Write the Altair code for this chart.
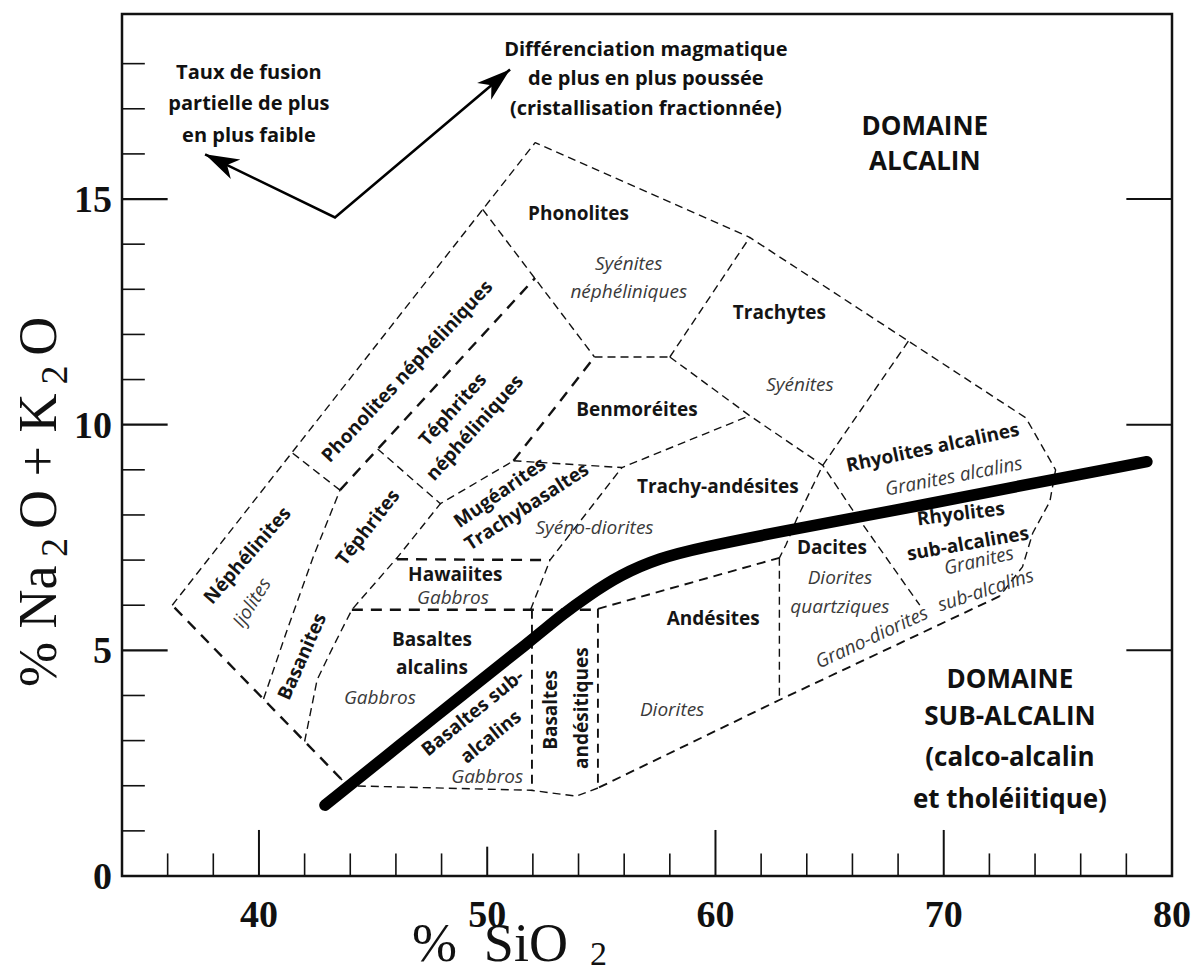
import math
import altair as alt
import pandas as pd

# ---------------------------------------------------------------- axes
X_MIN, X_MAX = 34, 80
Y_MIN, Y_MAX = 0, 19.1
W, H = 1050, 862
PX_X = W / (X_MAX - X_MIN)
PX_Y = H / (Y_MAX - Y_MIN)

x_tick_labels = [40, 50, 60, 70, 80]
y_tick_labels = [0, 5, 10, 15]
x_minor = [36, 38, 42, 44, 46, 48, 52, 54, 56, 58, 62, 64, 66, 68, 72, 74, 76, 78]
x_major = [40, 50, 60, 70]
y_minor = [1, 2, 3, 4, 6, 7, 8, 9, 11, 12, 13, 14, 16, 17, 18]
y_major = [5, 10, 15]

# ---------------------------------------------------------------- field boundaries (SiO2, Na2O+K2O)
thin_lines = {
    "outer_top": [(36.2, 6.0), (52.1, 16.25), (61.5, 14.15), (73.6, 10.15), (74.9, 9.0),
                  (74.65, 8.3), (73.9, 7.6), (73.45, 6.85), (72.45, 6.2)],
    "outer_bottom": [(54.85, 1.95), (53.9, 1.77), (51.9, 1.9), (43.9, 2.0), (43.6, 2.15)],
    "nephelinites": [(40.2, 3.92), (41.2, 5.4), (42.4, 7.1), (43.55, 8.55)],
    "neph_branch": [(43.55, 8.55), (41.45, 9.38)],
    "phonolite_low": [(49.8, 14.77), (54.7, 11.5)],
    "tephrite_top": [(45.2, 9.46), (47.95, 8.25), (51.15, 9.2)],
    "phonolite_base": [(54.7, 11.5), (58.0, 11.5)],
    "phono_trachyte": [(58.0, 11.5), (61.5, 14.15)],
    "benmoreite_right": [(58.0, 11.5), (61.5, 10.2), (64.7, 9.1), (66.02, 8.1), (68.95, 6.0)],
    "rhyolite_left": [(68.45, 11.85), (64.7, 9.1), (63.55, 7.9), (63.1, 7.35), (62.8, 7.05)],
    "dacite_left": [(62.8, 7.05), (62.8, 3.9)],
    "basanite_right": [(42.0, 2.98), (42.55, 4.35), (43.25, 5.08), (44.07, 5.9),
                       (46.05, 7.05), (47.95, 8.25)],
    "hawaiite_right": [(51.9, 5.9), (52.75, 7.0), (55.9, 9.05)],
    "trachybasalt_top": [(51.15, 9.2), (55.9, 9.05), (61.5, 10.2)],
}
mid_lines = {
    "outer_lower_right": [(72.45, 6.2), (62.8, 3.9), (54.85, 1.95)],
    "andesite_top": [(54.85, 5.92), (62.8, 7.05)],
    "bas_andesite_right": [(54.85, 5.92), (54.85, 1.95)],
    "basalt_split": [(51.96, 5.9), (51.96, 1.9)],
}
bold_lines = {
    "outer_left": [(43.6, 2.15), (36.2, 6.0)],
    "tephrite_neph": [(43.55, 8.55), (52.1, 13.25)],
    "benmoreite_left": [(51.15, 9.2), (54.7, 11.5)],
    "hawaiite_top": [(46.05, 7.02), (52.75, 7.0)],
    "basalt_top": [(44.07, 5.9), (54.85, 5.9)],
}

# alkaline / sub-alkaline divide
divide_x = [42.89, 46.18, 48.8, 51.96, 53.3, 54.4, 55.81, 57.57, 59.32, 62.82, 68.08, 72.46, 78.9]
divide_y = [1.57, 2.90, 3.97, 5.23, 5.8, 6.2, 6.67, 7.05, 7.27, 7.63, 8.12, 8.56, 9.18]

# trend arrows
arrow_x = [37.64, 43.33, 51.0]
arrow_y = [15.99, 14.59, 17.87]

# ---------------------------------------------------------------- labels
rock_names = [  # text, x, y, angle
    ("Phonolites", 54.0, 14.66, 0), ("Trachytes", 62.8, 12.48, 0),
    ("Benmoréites", 56.56, 10.33, 0), ("Trachy-andésites", 60.1, 8.63, 0),
    ("Rhyolites alcalines", 69.52, 9.49, -12), ("Rhyolites", 70.75, 8.02, -7),
    ("sub-alcalines", 71.06, 7.36, -10), ("Dacites", 65.1, 7.27, 0),
    ("Andésites", 59.9, 5.7, 0), ("Basaltes", 52.8, 3.68, -90),
    ("andésitiques", 54.15, 3.72, -90), ("Basaltes sub-", 49.37, 3.61, -39),
    ("alcalins", 50.16, 3.08, -39), ("Basaltes", 47.58, 5.23, 0),
    ("alcalins", 47.58, 4.61, 0), ("Hawaiites", 48.6, 6.68, 0),
    ("Mugéarites", 50.56, 8.49, -35), ("Trachybasaltes", 51.74, 8.18, -33),
    ("Téphrites", 44.78, 7.72, -52), ("Téphrites", 48.5, 10.33, -48),
    ("néphéliniques", 49.46, 9.93, -48), ("Phonolites néphéliniques", 46.5, 11.18, -47),
    ("Néphélinites", 39.5, 7.1, -49), ("Basanites", 41.9, 4.86, -66),
]
plutonic_names = [
    ("Syénites", 56.2, 13.55, 0), ("néphéliniques", 56.2, 12.93, 0),
    ("Syénites", 63.7, 10.89, 0), ("Granites alcalins", 70.44, 8.85, -11),
    ("Granites", 71.54, 6.98, -13), ("sub-alcalins", 71.84, 6.33, -18),
    ("Diorites", 65.45, 6.6, 0), ("quartziques", 65.45, 5.96, 0),
    ("Grano-diorites", 66.85, 5.28, -25), ("Diorites", 58.1, 3.68, 0),
    ("Gabbros", 50.0, 2.2, 0), ("Gabbros", 45.3, 3.95, 0),
    ("Gabbros", 48.5, 6.15, 0), ("Syéno-diorites", 54.7, 7.72, 0),
    ("Ijolites", 39.7, 6.05, -58),
]
domain_names = [
    ("DOMAINE", 69.17, 16.59), ("ALCALIN", 69.17, 15.81),
    ("DOMAINE", 72.9, 4.35), ("SUB-ALCALIN", 72.9, 3.53),
    ("(calco-alcalin", 72.9, 2.62), ("et tholéiitique)", 72.9, 1.69),
]
trend_notes = [
    ("Taux de fusion", 39.56, 17.8), ("partielle de plus", 39.56, 17.1),
    ("en plus faible", 39.56, 16.4),
    ("Différenciation magmatique", 56.95, 18.31), ("de plus en plus poussée", 56.95, 17.65),
    ("(cristallisation fractionnée)", 56.95, 17.0),
]

# axis titles, split so the subscripts can be set smaller and lower
x_title_parts = [  # text, x, y, font size
    ("%\u00a0\u00a0SiO", 46.7, -1.885, 54), ("2", 54.5, -1.973, 34),
]
y_title_parts = [  # text, x, y, font size (read bottom to top)
    ("% Na", 31.1, 4.19, 54), ("2", 31.6, 7.07, 38), ("O + K", 31.1, 7.69, 54),
    ("2", 31.6, 10.89, 38), ("O", 31.1, 11.53, 54),
]

# ---------------------------------------------------------------- helpers
xs = alt.Scale(domain=[X_MIN, X_MAX], nice=False, zero=False)
ys = alt.Scale(domain=[Y_MIN, Y_MAX], nice=False, zero=False)
SANS = "Open Sans"
SERIF = "Liberation Serif"


def X(field="x"):
    return alt.X(f"{field}:Q", scale=xs, axis=None)


def Y(field="y"):
    return alt.Y(f"{field}:Q", scale=ys, axis=None)


def seg_frame(lines):
    rows = []
    for name, pts in lines.items():
        for i, (x, y) in enumerate(pts):
            rows.append({"seg": name, "i": i, "x": x, "y": y})
    return pd.DataFrame(rows)


def dashed(lines, width, dash):
    return alt.Chart(seg_frame(lines)).mark_line(
        color="#111", strokeWidth=width, strokeDash=dash, strokeJoin="round"
    ).encode(x=X(), y=Y(), detail="seg:N", order="i:Q")


def labels(items, size, weight, style, color, font=SANS):
    df = pd.DataFrame(items, columns=["t", "x", "y", "a"])
    df["a"] = df["a"] % 360
    return alt.Chart(df).mark_text(
        font=font, fontSize=size, fontWeight=weight, fontStyle=style, color=color,
        align="center", baseline="middle",
    ).encode(x=X(), y=Y(), text="t:N", angle=alt.Angle("a:Q", scale=None))


# tick labels
x_labels = alt.Chart(pd.DataFrame({"v": x_tick_labels, "y": 0})).mark_text(
    font=SERIF, fontWeight="bold", fontSize=38, color="#111", baseline="middle", dy=40
).encode(x=X("v"), y=Y(), text="v:Q")
y_labels = alt.Chart(pd.DataFrame({"v": y_tick_labels, "x": X_MIN})).mark_text(
    font=SERIF, fontWeight="bold", fontSize=38, color="#111", baseline="middle",
    align="right", dx=-10, dy=2
).encode(x=X(), y=Y("v"), text="v:Q")

# inward tick marks
tick_rows = []
for v in x_minor:
    tick_rows.append({"x": v, "x2": v, "y": 0, "y2": 0.5, "w": 1.6})
for v in x_major:
    tick_rows.append({"x": v, "x2": v, "y": 0, "y2": 1.02 if v != 50 else 0.65, "w": 2.0})
for v in y_minor:
    tick_rows.append({"x": X_MIN, "x2": X_MIN + 1.0, "y": v, "y2": v, "w": 1.6})
for v in y_major:
    tick_rows.append({"x": X_MIN, "x2": X_MIN + 2.0, "y": v, "y2": v, "w": 2.2})
    tick_rows.append({"x": X_MAX - 2.0, "x2": X_MAX, "y": v, "y2": v, "w": 2.0})
ticks = alt.Chart(pd.DataFrame(tick_rows)).mark_rule(color="#111").encode(
    x=X(), x2="x2:Q", y=Y(), y2="y2:Q", strokeWidth=alt.StrokeWidth("w:Q", scale=None),
)

divide = alt.Chart(pd.DataFrame({"x": divide_x, "y": divide_y, "i": range(len(divide_x))})).mark_line(
    color="black", strokeWidth=11.5, strokeCap="round", strokeJoin="round", interpolate="basis"
).encode(x=X(), y=Y(), order="i:Q")

arrow_line = alt.Chart(pd.DataFrame({"x": arrow_x, "y": arrow_y, "i": [0, 1, 2]})).mark_line(
    color="black", strokeWidth=2.6, strokeJoin="miter"
).encode(x=X(), y=Y(), order="i:Q")


def head_angle(x0, y0, x1, y1):
    dx = (x1 - x0) * PX_X
    dy = (y1 - y0) * PX_Y
    return math.degrees(math.atan2(dx, dy)) % 360


heads = pd.DataFrame({
    "x": [arrow_x[0], arrow_x[2]],
    "y": [arrow_y[0], arrow_y[2]],
    "a": [head_angle(arrow_x[1], arrow_y[1], arrow_x[0], arrow_y[0]),
          head_angle(arrow_x[1], arrow_y[1], arrow_x[2], arrow_y[2])],
})
arrow_heads = alt.Chart(heads).mark_point(
    shape="M0,0L0.32,1L0,0.72L-0.32,1Z", filled=True, color="black", size=4600, opacity=1
).encode(x=X(), y=Y(), angle=alt.Angle("a:Q", scale=None))

volcanic = labels(rock_names, 19, "bold", "normal", "#151515")
plutonic = labels(plutonic_names, 19, "normal", "italic", "#3a3a3a")
domains = labels([(t, x, y, 0) for t, x, y in domain_names], 26, "bold", "normal", "#111")
notes = labels([(t, x, y, 0) for t, x, y in trend_notes], 20, "bold", "normal", "#111")

x_title = alt.Chart(pd.DataFrame(x_title_parts, columns=["t", "x", "y", "s"])).mark_text(
    font=SERIF, color="#111", align="left", baseline="alphabetic"
).encode(x=X(), y=Y(), text="t:N", size=alt.Size("s:Q", scale=None))
y_title = alt.Chart(pd.DataFrame(y_title_parts, columns=["t", "x", "y", "s"])).mark_text(
    font=SERIF, color="#111", align="left", baseline="alphabetic", angle=270
).encode(x=X(), y=Y(), text="t:N", size=alt.Size("s:Q", scale=None))

chart = alt.layer(
    ticks,
    dashed(thin_lines, 1.4, [8, 5]),
    dashed(mid_lines, 1.9, [9, 6]),
    dashed(bold_lines, 2.4, [11, 8]),
    divide, arrow_line, arrow_heads,
    volcanic, plutonic, domains, notes,
    x_labels, y_labels, x_title, y_title,
).properties(
    width=W, height=H,
    autosize=alt.AutoSizeParams(type="none"),
    padding={"left": 122, "top": 14, "right": 31, "bottom": 97},
    background="white",
).configure_view(stroke="#111", strokeWidth=2.5)

chart.save("out.html", embed_options={"renderer": "svg", "actions": False})
